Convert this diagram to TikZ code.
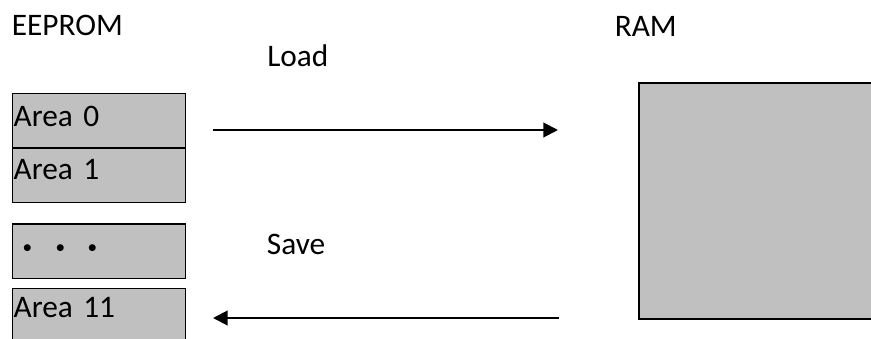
\documentclass[tikz,border=0pt]{standalone}
\usepackage{fontspec}
\setmainfont{Carlito}
\newfontfamily\cjk{Noto Sans CJK JP}
\usepackage{tikz}
\usetikzlibrary{arrows.meta, positioning}
\definecolor{cellgray}{RGB}{192,192,192}

\begin{document}
\begin{tikzpicture}[
  x=0.75pt, y=-0.75pt,
  font=\fontsize{23.5}{28}\selectfont,
  area/.style={draw, line width=1pt, fill=cellgray, outer sep=0pt, inner xsep=1pt, inner ysep=0pt,
    minimum width=129.75pt, minimum height=41pt, text width=127.75pt, align=left,
    text height=15pt, text depth=5.85pt},
  ram/.style={draw, line width=1.5pt, fill=cellgray, outer sep=0pt, minimum width=210pt, minimum height=177.2pt},
  flow/.style={line width=1.5pt, -{Triangle[length=11pt, width=11pt]}},
  caption/.style={anchor=base west, inner sep=0pt},
]
\useasboundingbox (0,0) rectangle (871,339);
\clip (0,0) rectangle (871,339);
\fill[white] (0,0) rectangle (871,339);
\node[caption] (eeprom) at (11.5,36) {EEPROM};
\node[caption] (ramlbl) at (614.5,36.7) {RAM};
\node[caption] (load) at (267,66) {Load};
\node[caption] (save) at (266.7,254) {Save};
\node[area, anchor=north west] (a0) at (12.3,93.3) {Area 0};
\node[area, below=0pt of a0, text depth=9.45pt] (a1) {Area 1};
\node[area, below=16pt of a1, text depth=1.5pt] (adots) {\hspace*{-1.4pt}\cjk\fontsize{24.4}{28}\selectfont ・・・};
\node[area, below=7.5pt of adots, text depth=13pt] (a11) {Area 11};
\node[ram, anchor=north west] (ram) at (639,82.7) {};
\coordinate (loadS) at (213,130);
\coordinate (loadE) at (558,130);
\coordinate (saveS) at (559,318);
\coordinate (saveE) at (213,318);
\draw[flow] (loadS) -- (loadE);
\draw[flow] (saveS) -- (saveE);
\end{tikzpicture}
\end{document}
